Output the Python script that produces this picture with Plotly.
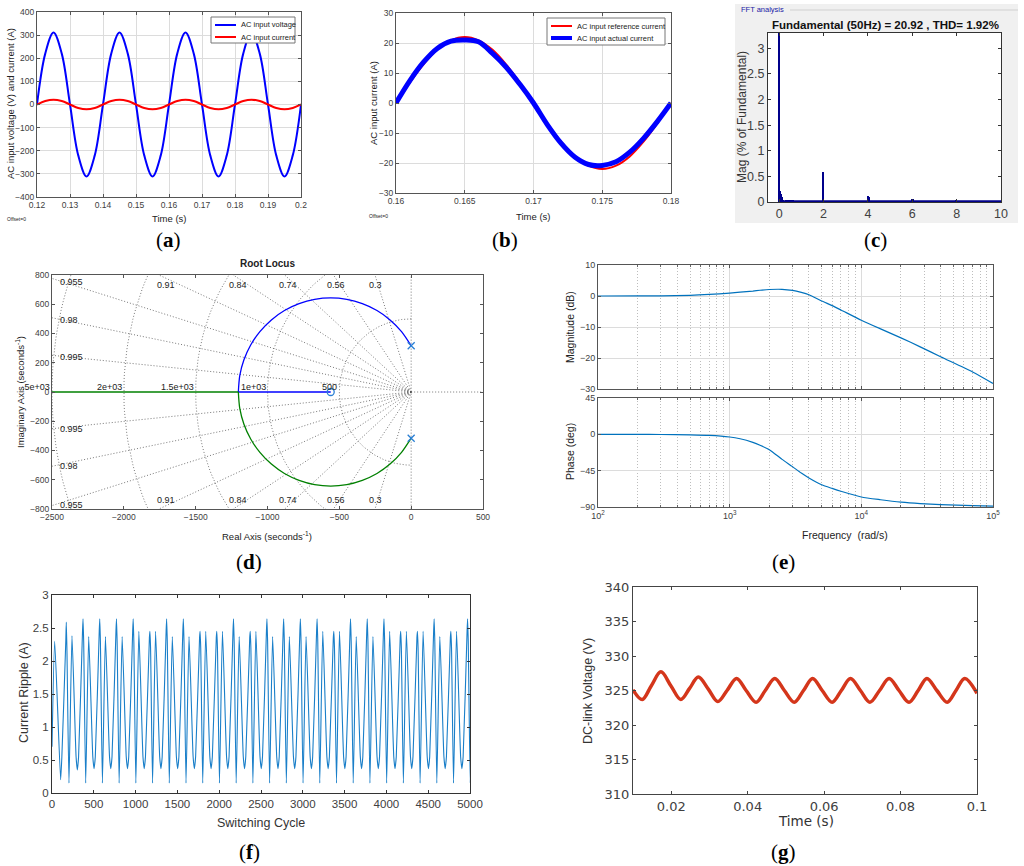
import numpy as np
import plotly.graph_objects as go

W, H = 1024, 866
SANS = "Liberation Sans"

# ---------------- data ----------------
# (a) AC input voltage / current, 1/8-period samples
t_a = np.linspace(0.12, 0.2, 33)
v_ac = [0, 220, 311, 220, 0, -220, -311, -220,
        0, 220, 311, 220, 0, -220, -311, -220,
        0, 220, 311, 220, 0, -220, -311, -220,
        0, 220, 311, 220, 0, -220, -311, -220, 0]
i_ac = [0, 15, 21, 15, 0, -15, -21, -15,
        0, 15, 21, 15, 0, -15, -21, -15,
        0, 15, 21, 15, 0, -15, -21, -15,
        0, 15, 21, 15, 0, -15, -21, -15, 0]

# (b) reference vs actual current, 1 ms samples
t_b = np.linspace(0.16, 0.18, 21)
i_ref = [0, 6.8, 12.9, 17.8, 20.9, 22.0, 20.9, 17.8, 12.9, 6.8, 0,
         -6.8, -12.9, -17.8, -20.9, -22.0, -20.9, -17.8, -12.9, -6.8, 0]
i_act = [0, 7.4, 13.6, 18.2, 20.6, 21.0, 20.4, 16.6, 12.0, 6.3, 0,
         -7.2, -13.4, -18.0, -20.5, -20.8, -19.6, -16.4, -11.8, -6.2, 0]

# (c) FFT spectrum
fft_order = [0, 0.02, 0.05, 0.08, 0.12, 0.16, 0.2, 0.3, 0.4, 0.5, 0.6, 0.65,
             2.0, 4.0, 4.05, 6.0, 6.05, 8.0]
fft_mag = [3.5, 1.2, 0.22, 0.15, 0.1, 0.06, 0.04, 0.04, 0.03, 0.03, 0.04, 0.03,
           0.58, 0.12, 0.09, 0.05, 0.05, 0.02]
base_order = [0, 10]
base_mag = [0.008, 0.008]

# (d) root locus
arc_x = [0, -67, -147, -238, -340, -448, -560, -672, -780, -882, -973,
         -1053, -1117, -1164, -1193, -1203]
arc_up_y = [316, 413, 493, 557, 604, 633, 643, 633, 604, 557, 493,
            413, 321, 220, 112, 0]
arc_lo_y = [-v for v in arc_up_y]
real_blue_x = [-1203, -560]
real_green_x = [-1203, -2600]
pole_x, pole_y = [0, 0], [316, -316]
zero_x, zero_y = [-560], [0]
damping = [0.3, 0.56, 0.74, 0.84, 0.91, 0.955, 0.98, 0.995]
wn_rings = [500, 1000, 1500, 2000, 2500]

# (e) Bode
freq = [100, 200, 300, 500, 700, 1000, 1200, 1500, 1700, 2000, 2500, 3000, 3500, 4000,
        5000, 6000, 7000, 10000, 14000, 20000, 28000, 40000, 70000, 100000]
mag_db = [0, 0.02, 0.05, 0.2, 0.5, 0.95, 1.25, 1.6, 1.85, 2.1, 2.15, 1.8, 1.15, 0.4,
          -1.6, -3.1, -4.5, -7.8, -10.6, -13.5, -16.4, -19.6, -24.5, -28.2]
phase_deg = [0, -0.1, -0.2, -0.6, -1.3, -3.3, -5.5, -10, -13.5, -19, -31, -40, -48, -54,
             -62.5, -67, -70.5, -77.6, -81, -84, -85.8, -87, -88.3, -88.8]

# (f) current ripple: extremes of each 200-cycle pattern
ripple_tall = [2.59, 2.64, 2.64, 2.64, 2.64, 2.45, 2.64, 2.64, 2.45, 2.45, 2.64, 2.45, 2.64,
               2.64, 2.64, 2.64, 2.45, 2.64, 2.64, 2.64, 2.45, 2.45, 2.64, 2.45, 2.64]
ripple_shoulder = [2.3, 2.45, 2.45, 2.45, 2.45, 2.35, 2.45, 2.45, 2.35, 2.35, 2.45, 2.35, 2.45,
                   2.45, 2.45, 2.45, 2.35, 2.45, 2.45, 2.45, 2.35, 2.35, 2.45, 2.35, 2.45]
ripple_dip = [0.15, 0.15, 0.15, 0.15, 0.15, 0.15, 0.15, 0.15, 0.15, 0.15, 0.15, 0.15, 0.15,
              0.15, 0.15, 0.15, 0.15, 0.15, 0.15, 0.15, 0.15, 0.15, 0.15, 0.15, 0.15]
ripple_second = [2.38, 2.37, 2.37, 2.37, 2.45, 2.45, 2.37, 2.37, 2.45, 2.45, 2.37, 2.45, 2.37,
                 2.37, 2.37, 2.45, 2.45, 2.37, 2.37, 2.45, 2.45, 2.45, 2.37, 2.45, 2.37]
ripple_trough = [0.35, 0.37, 0.37, 0.37, 0.37, 0.37, 0.37, 0.37, 0.37, 0.37, 0.37, 0.37, 0.37,
                 0.37, 0.37, 0.37, 0.37, 0.37, 0.37, 0.37, 0.37, 0.37, 0.37, 0.37, 0.37]
ripple_flank = 0.55
ripple_head_x = [0, 32, 103]
ripple_head_y = [0.7, 2.3, 0.2]

# (g) DC-link voltage
t_g = [0.01, 0.0124, 0.0148, 0.0173, 0.0199, 0.0225, 0.0248, 0.0271, 0.0297, 0.0322,
       0.0346, 0.0371, 0.0396, 0.0422, 0.0446, 0.0471, 0.0496, 0.0522, 0.0546, 0.0570,
       0.0595, 0.0621, 0.0645, 0.0669, 0.0695, 0.0720, 0.0745, 0.0770, 0.0796, 0.0822,
       0.0846, 0.0869, 0.0895, 0.0922, 0.0945, 0.0968, 0.1]
v_dc = [325.1, 323.7, 325.7, 327.7, 325.7, 323.7, 325.3, 326.95, 325.2, 323.4,
        325.0, 326.75, 325.0, 323.3, 325.0, 326.75, 325.0, 323.3, 325.0, 326.75,
        325.0, 323.3, 325.0, 326.75, 325.0, 323.3, 325.0, 326.75, 325.0, 323.3,
        325.0, 326.75, 325.0, 323.3, 325.0, 326.75, 324.6]


# ---------------- helpers ----------------
def px(x):
    return x / W


def py(y):
    return 1 - y / H


def dom_x(a, b):
    return [px(a), px(b)]


def dom_y(top, bottom):
    return [py(bottom), py(top)]


def axis(domain, anchor, size, family=SANS, color="#555", **kw):
    d = dict(domain=domain, anchor=anchor, showline=True, mirror="ticks", automargin=False,
             linecolor=color, linewidth=1, ticks="inside", ticklen=3, tickcolor=color,
             tickfont=dict(family=family, size=size, color="#404040"),
             zeroline=False, showgrid=False)
    d.update(kw)
    return d


notes = []
shapes = []


def note(text, x, y, size, angle=0, family=SANS, color="#222", xanchor="center", **kw):
    notes.append(dict(text=text, x=px(x), y=py(y), xref="paper", yref="paper",
                      showarrow=False, textangle=angle, xanchor=xanchor, yanchor="middle",
                      font=dict(family=family, size=size, color=color), **kw))


def legend_box(x0, x1, y0, y1, items):
    # items: (label, colour, width, y)
    shapes.append(dict(type="rect", xref="paper", yref="paper", x0=px(x0), x1=px(x1),
                       y0=py(y1), y1=py(y0), fillcolor="white",
                       line=dict(color="#777", width=1)))
    for label, col, lw, yy in items:
        shapes.append(dict(type="line", xref="paper", yref="paper", x0=px(x0 + 4), x1=px(x0 + 25),
                           y0=py(yy), y1=py(yy), line=dict(color=col, width=lw)))
        note(label, x0 + 28, yy, 7.5, xanchor="left")


fig = go.Figure()

# (a)
fig.add_trace(go.Scatter(x=t_a, y=v_ac, mode="lines",
                         line=dict(color="#0000FF", width=2, shape="spline"), xaxis="x", yaxis="y"))
fig.add_trace(go.Scatter(x=t_a, y=i_ac, mode="lines",
                         line=dict(color="#FF0000", width=2, shape="spline"), xaxis="x", yaxis="y"))

# (b)
fig.add_trace(go.Scatter(x=t_b, y=i_ref, mode="lines",
                         line=dict(color="#FF0000", width=2, shape="spline"), xaxis="x2", yaxis="y2"))
fig.add_trace(go.Scatter(x=t_b, y=i_act, mode="lines",
                         line=dict(color="#0000FF", width=5, shape="spline"), xaxis="x2", yaxis="y2"))

# (c)
fig.add_trace(go.Bar(x=fft_order, y=fft_mag, width=0.06, marker=dict(color="#00008B", line_width=0),
                     xaxis="x3", yaxis="y3"))
fig.add_trace(go.Scatter(x=base_order, y=base_mag, mode="lines", line=dict(color="#00008B", width=2.5),
                         xaxis="x3", yaxis="y3"))

# (d) s-plane grid
gx, gy = [], []
for r in wn_rings:
    th = np.linspace(np.pi / 2, 3 * np.pi / 2, 120)
    gx += list(r * np.cos(th)) + [None]
    gy += list(r * np.sin(th)) + [None]
for z in damping:
    s = np.sqrt(1 - z * z)
    gx += [0, -4000 * z, None, 0, -4000 * z, None]
    gy += [0, 4000 * s, None, 0, -4000 * s, None]
gx += [0, 0, None, 0, 700]
gy += [-900, 900, None, 0, 0]
fig.add_trace(go.Scatter(x=gx, y=gy, mode="lines", line=dict(color="#555", width=0.8, dash="1px,2px"),
                         xaxis="x4", yaxis="y4", hoverinfo="skip"))
fig.add_trace(go.Scatter(x=arc_x, y=arc_up_y, mode="lines",
                         line=dict(color="#0000FF", width=1.3, shape="spline", smoothing=0.8),
                         xaxis="x4", yaxis="y4"))
fig.add_trace(go.Scatter(x=real_blue_x, y=[0, 0], mode="lines", line=dict(color="#0000FF", width=1.3),
                         xaxis="x4", yaxis="y4"))
fig.add_trace(go.Scatter(x=arc_x, y=arc_lo_y, mode="lines",
                         line=dict(color="#008000", width=1.3, shape="spline", smoothing=0.8),
                         xaxis="x4", yaxis="y4"))
fig.add_trace(go.Scatter(x=real_green_x, y=[0, 0], mode="lines", line=dict(color="#008000", width=1.3),
                         xaxis="x4", yaxis="y4"))
fig.add_trace(go.Scatter(x=pole_x, y=pole_y, mode="markers",
                         marker=dict(symbol="x-thin-open", size=7, color="#2a7fd4",
                                     line=dict(color="#2a7fd4", width=1.3)),
                         xaxis="x4", yaxis="y4"))
fig.add_trace(go.Scatter(x=zero_x, y=zero_y, mode="markers",
                         marker=dict(symbol="circle-open", size=7, color="#2a7fd4", line=dict(width=1.3)),
                         xaxis="x4", yaxis="y4"))

# (e)
fig.add_trace(go.Scatter(x=freq, y=mag_db, mode="lines",
                         line=dict(color="#0072BD", width=1.2, shape="spline", smoothing=0.6),
                         xaxis="x5", yaxis="y5"))
fig.add_trace(go.Scatter(x=freq, y=phase_deg, mode="lines",
                         line=dict(color="#0072BD", width=1.2, shape="spline", smoothing=0.6),
                         xaxis="x6", yaxis="y6"))

# (f)
rx, ry = list(ripple_head_x), list(ripple_head_y)
for k in range(len(ripple_tall)):
    s = 103 + 200 * k
    rx += [s + 15, s + 62, s + 68, s + 76, s + 100, s + 136, s + 185, s + 200]
    ry += [ripple_flank, ripple_shoulder[k], ripple_tall[k], ripple_shoulder[k] - 0.15,
           ripple_dip[k], ripple_second[k], ripple_flank, ripple_trough[k]]
fig.add_trace(go.Scatter(x=rx, y=ry, mode="lines",
                         line=dict(color="#1a7fc9", width=1.1, shape="spline", smoothing=0.5),
                         xaxis="x7", yaxis="y7"))

# (g)
fig.add_trace(go.Scatter(x=t_g, y=v_dc, mode="lines", line=dict(color="#D4361B", width=3.5, shape="spline"),
                         xaxis="x8", yaxis="y8"))

# ---------------- axes ----------------
grid = dict(showgrid=True, gridcolor="#DCDCDC", gridwidth=1)
decades = [100, 1000, 10000, 100000]
minor_vals = [m * d for d in decades[:-1] for m in range(2, 10)]
minor = dict(tickmode="array", tickvals=minor_vals, ticks="inside", ticklen=2, tickcolor="#666",
             showgrid=True, gridcolor="#BDBDBD", griddash="1px,2px", gridwidth=1)

layout_axes = dict(
    xaxis=axis(dom_x(37, 301), "y", 8.5, range=[0.12, 0.2], dtick=0.01, **grid),
    yaxis=axis(dom_y(12, 197), "x", 8.5, range=[-400, 400], dtick=100, **grid),
    xaxis2=axis(dom_x(396, 671), "y2", 8.5, range=[0.16, 0.18], dtick=0.005, **grid),
    yaxis2=axis(dom_y(13, 193), "x2", 8.5, range=[-30, 30], dtick=10, **grid),
    xaxis3=axis(dom_x(768, 1001), "y3", 12.5, range=[-0.5, 10], dtick=2, color="#333"),
    yaxis3=axis(dom_y(33, 202), "x3", 12.5, range=[0, 3.3], dtick=0.5, color="#333"),
    xaxis4=axis(dom_x(52, 483), "y4", 8.5, range=[-2500, 500], dtick=500),
    yaxis4=axis(dom_y(275, 509), "x4", 8.5, range=[-800, 800], dtick=200),
    xaxis5=axis(dom_x(598, 993), "y5", 9, type="log", range=[2, 5], tickvals=decades,
                showticklabels=False, minor=minor, **grid),
    yaxis5=axis(dom_y(265, 389), "x5", 9, range=[-30, 10], dtick=10, **grid),
    xaxis6=axis(dom_x(598, 993), "y6", 9, type="log", range=[2, 5], tickvals=decades,
                ticktext=["10<sup>2</sup>", "10<sup>3</sup>", "10<sup>4</sup>", "10<sup>5</sup>"],
                minor=minor, **grid),
    yaxis6=axis(dom_y(398, 507), "x6", 9, range=[-90, 45], dtick=45, **grid),
    xaxis7=axis(dom_x(52, 470), "y7", 11.5, range=[0, 5000], dtick=500, color="#333"),
    yaxis7=axis(dom_y(595, 793), "x7", 11.5, range=[0, 3], dtick=0.5, color="#333"),
    xaxis8=axis(dom_x(633, 977), "y8", 13, family="DejaVu Sans", range=[0.01, 0.1],
                tickvals=[0.02, 0.04, 0.06, 0.08, 0.1], color="#444"),
    yaxis8=axis(dom_y(587, 794), "x8", 13, family="DejaVu Sans", range=[310, 340], dtick=5, color="#444"),
)

# ---------------- panel (c) frame ----------------
shapes += [
    dict(type="rect", xref="paper", yref="paper", x0=px(735), x1=px(1018), y0=py(223), y1=py(4),
         fillcolor="#F0F0F0", line=dict(width=0), layer="below"),
    dict(type="rect", xref="paper", yref="paper", x0=px(768), x1=px(1001), y0=py(202), y1=py(33),
         fillcolor="white", line=dict(width=0), layer="below"),
    dict(type="line", xref="paper", yref="paper", x0=px(790), x1=px(1018), y0=py(10), y1=py(10),
         line=dict(color="#D0D0D0", width=1)),
]

# ---------------- legends ----------------
legend_box(211, 295, 17, 43, [("AC input voltage", "#0000FF", 2, 25),
                              ("AC input current", "#FF0000", 2, 37)])
legend_box(547, 665, 18, 45, [("AC input reference current", "#FF0000", 2, 26),
                              ("AC input actual current", "#0000FF", 4, 38)])

# ---------------- text ----------------
# (a)
note("Time (s)", 169, 218, 9.5)
note("AC input voltage (V) and current (A)", 11, 104, 9.5, angle=-90)
note("Offset=0", 5, 219, 5, xanchor="left")
# (b)
note("Time (s)", 533, 216, 9.5)
note("AC input current (A)", 373, 103, 9.5, angle=-90)
note("Offset=0", 367, 216, 5, xanchor="left")
# (c)
note("FFT analysis", 739, 10, 7.5, color="#1a1aa6", xanchor="left")
note("<b>Fundamental (50Hz) = 20.92 , THD= 1.92%</b>", 885, 25, 11.5, color="#111")
note("Mag (% of Fundamental)", 742, 117, 12, angle=-90, color="#333")
# (d)
note("<b>Root Locus</b>", 267, 263, 10)
note("Real Axis (seconds<sup>-1</sup>)", 267, 536, 9.5)
note("Imaginary Axis (seconds<sup>-1</sup>)", 20, 392, 9.5, angle=-90)
# (e)
note("Magnitude (dB)", 570, 327, 10.5, angle=-90)
note("Phase (deg)", 570, 452, 10.5, angle=-90)
note("Frequency  (rad/s)", 845, 535, 10.5)
# (f)
note("Current Ripple (A)", 24, 693, 12.5, angle=-90, color="#333")
note("Switching Cycle", 261, 823, 12.5, color="#333")
# (g)
note("DC-link Voltage (V)", 588, 691, 12.5, angle=-90, color="#333")
note("Time (s)", 806, 821, 13.5, family="DejaVu Sans", color="#333")

# panel letters
for letter, x, y in [("a", 168, 240), ("b", 505, 240), ("c", 875, 240), ("d", 249, 562),
                     ("e", 783, 562), ("f", 249, 852), ("g", 783, 852)]:
    note("(<b>%s</b>)" % letter, x, y, 21, family="Liberation Serif", color="#000")

# root locus grid labels (data coordinates)
rl_labels = [("0.955", -2458, 754, "left"), ("0.98", -2458, 492, "left"), ("0.995", -2458, 241, "left"),
             ("0.995", -2458, -253, "left"), ("0.98", -2458, -506, "left"), ("0.955", -2458, -771, "left"),
             ("2e+03", -2000, 36, "right"), ("1.5e+03", -1500, 36, "right"),
             ("1e+03", -1000, 36, "right"), ("500", -500, 36, "right"), (".5e+03", -2500, 36, "right")]
for zt, zx in [("0.91", -1707), ("0.84", -1203), ("0.74", -855), ("0.56", -525), ("0.3", -247)]:
    rl_labels += [(zt, zx, 732, "center"), (zt, zx, -739, "center")]
for text, x, y, anchor in rl_labels:
    notes.append(dict(text=text, x=x, y=y, xref="x4", yref="y4", showarrow=False,
                      xanchor=anchor, yanchor="middle",
                      font=dict(family=SANS, size=9, color="#222")))

fig.update_layout(
    width=W, height=H, margin=dict(l=0, r=0, t=0, b=0),
    paper_bgcolor="white", plot_bgcolor="white",
    showlegend=False,
    shapes=shapes,
    annotations=notes,
    bargap=0,
    **layout_axes,
)

fig.write_html("out.html", config={"displayModeBar": False},
               post_script="document.body.style.margin='0px';")
